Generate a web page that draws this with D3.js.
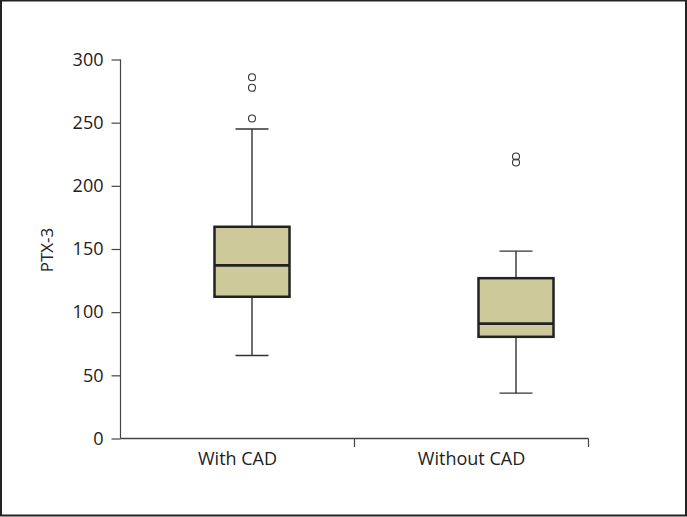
<!DOCTYPE html>
<html><head><meta charset="utf-8">
<script src="https://cdn.jsdelivr.net/npm/d3@7"></script>
<style>
html,body{margin:0;padding:0;background:#fff;}
svg{display:block;}
text{font-family:"Open Sans","Noto Sans",sans-serif;fill:#222;}
</style></head>
<body>
<svg id="c" width="687" height="517"></svg>
<script>
const categories = ["With CAD", "Without CAD"];
const lowerWhisker = [65.7, 35.9];
const q1 = [112.2, 80.5];
const median = [137, 91];
const q3 = [167.6, 126.9];
const upperWhisker = [245, 148.3];
const outliers = [[253.3, 277.6, 286], [218.5, 223.2]];
const yTicks = [0, 50, 100, 150, 200, 250, 300];
const yLabel = "PTX-3";

const svg = d3.select("#c");
svg.append("rect").attr("x",1).attr("y",0.5).attr("width",685).attr("height",515)
  .attr("fill","#fff").attr("stroke","#222").attr("stroke-width",2);

const y = d3.scaleLinear().domain([0,300]).range([438.5,59.5]);
const x = d3.scaleBand().domain(categories).range([120.5,588.5]);
const xb = d3.scaleBand().domain(categories).range([120,648]);

const ax = svg.append("g").attr("transform","translate(120.5,0)")
  .call(d3.axisLeft(y).tickValues(yTicks).tickSize(9).tickPadding(8));
ax.selectAll("path").attr("d","M-0,59.5V438.5").attr("stroke","#444").attr("stroke-width",1.2);
ax.selectAll("line").attr("stroke","#444").attr("stroke-width",1.2);
ax.selectAll("text").attr("font-size",18).attr("font-family","\"Open Sans\",sans-serif").attr("fill","#222");

const bx = svg.append("g").attr("transform","translate(0,438.5)")
  .call(d3.axisBottom(x).tickSize(0).tickPadding(14));
bx.select("path").attr("d","M120.5,0H588.5").attr("stroke","#444").attr("stroke-width",1.5);
bx.selectAll("text").attr("font-size",18).attr("font-family","\"Open Sans\",sans-serif").attr("fill","#222");
const bounds = [x(categories[1]), x.range()[1]];
svg.selectAll(".bt").data(bounds).enter().append("line")
  .attr("x1",d=>d).attr("x2",d=>d).attr("y1",438.5).attr("y2",447)
  .attr("stroke","#444").attr("stroke-width",1.2);

svg.append("text").attr("transform","translate(53,250) rotate(-90)")
  .attr("text-anchor","middle").attr("font-size",17).text(yLabel);

const boxW = 75, capW = 33;
categories.forEach((c,i)=>{
  const cx = xb(c) + xb.bandwidth()/2;
  const g = svg.append("g");
  g.append("line").attr("x1",cx).attr("x2",cx).attr("y1",y(upperWhisker[i])).attr("y2",y(q3[i]))
    .attr("stroke","#333").attr("stroke-width",1.4);
  g.append("line").attr("x1",cx).attr("x2",cx).attr("y1",y(q1[i])).attr("y2",y(lowerWhisker[i]))
    .attr("stroke","#333").attr("stroke-width",1.4);
  [upperWhisker[i], lowerWhisker[i]].forEach(v=>{
    g.append("line").attr("x1",cx-capW/2).attr("x2",cx+capW/2).attr("y1",y(v)).attr("y2",y(v))
      .attr("stroke","#333").attr("stroke-width",1.4);
  });
  g.append("rect").attr("x",cx-boxW/2).attr("y",y(q3[i])).attr("width",boxW)
    .attr("height",y(q1[i])-y(q3[i])).attr("fill","#cdc99a").attr("stroke","#222").attr("stroke-width",2.5);
  g.append("line").attr("x1",cx-boxW/2).attr("x2",cx+boxW/2).attr("y1",y(median[i])).attr("y2",y(median[i]))
    .attr("stroke","#222").attr("stroke-width",2.8);
  g.selectAll("circle").data(outliers[i]).enter().append("circle")
    .attr("cx",cx).attr("cy",d=>y(d)).attr("r",3.5)
    .attr("fill","none").attr("stroke","#333").attr("stroke-width",1.1);
});
</script>
</body></html>
